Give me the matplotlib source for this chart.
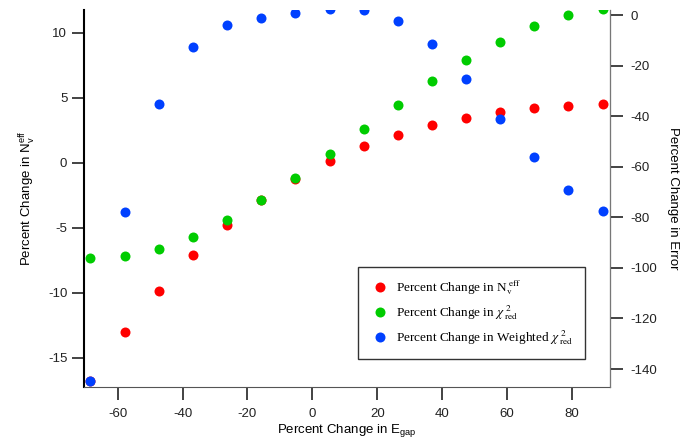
import numpy as np
import matplotlib.pyplot as plt
from matplotlib.font_manager import FontProperties

plt.rcParams['font.family'] = 'Liberation Sans'
plt.rcParams['mathtext.fontset'] = 'custom'
plt.rcParams['mathtext.rm'] = 'Liberation Sans'
plt.rcParams['mathtext.it'] = 'Liberation Sans'
plt.rcParams['axes.unicode_minus'] = False

# percent change in E_gap
egap = [-68.4, -57.9, -47.4, -36.8, -26.3, -15.8, -5.3, 5.3,
        15.8, 26.3, 36.8, 47.4, 57.9, 68.4, 78.9, 89.5]
# left axis: percent change in N_v^eff
neff = [-16.8, -13.0, -9.87, -7.12, -4.82, -2.9, -1.25, 0.1,
        1.26, 2.15, 2.9, 3.44, 3.9, 4.18, 4.38, 4.52]
# right axis: percent change in error
chi2 = [-96.0, -95.4, -92.5, -87.7, -81.1, -73.3, -64.3, -54.9,
        -45.1, -35.5, -26.2, -17.8, -10.6, -4.35, 0.0, 2.25]
wchi2 = [-144.7, -77.9, -35.2, -12.8, -4.1, -1.07, 0.8, 2.25,
         1.98, -2.25, -11.5, -25.2, -41.1, -56.3, -69.1, -77.4]

RED, GREEN, BLUE = '#ff0000', '#00cc00', '#0040ff'


def main():
    fig = plt.figure(figsize=(6.97, 4.43), dpi=100)
    ax = fig.add_axes([0.1205, 0.127, 0.754, 0.8504])
    ax2 = ax.twinx()

    l1, = ax.plot(egap, neff, 'o', color=RED, ms=7.2, mec='none',
                  label=r'Percent Change in N$_\mathrm{v}^{\ \mathrm{eff}}$')
    l2, = ax2.plot(egap, chi2, 'o', color=GREEN, ms=7.2, mec='none',
                   label=r'Percent Change in $\chi^{\ 2}_{\ \mathrm{red}}$')
    l3, = ax2.plot(egap, wchi2, 'o', color=BLUE, ms=7.2, mec='none',
                   label=r'Percent Change in Weighted $\chi^{\ 2}_{\ \mathrm{red}}$')

    ax.set_xlim(-70.4, 91.6)
    ax.set_ylim(-17.23, 11.75)
    ax2.set_ylim(-147.0, 1.98)
    ax.set_xticks(np.arange(-60, 81, 20))
    ax.set_yticks(np.arange(-15, 11, 5))
    ax2.set_yticks(np.arange(-140, 1, 20))

    for a in (ax, ax2):
        a.spines['top'].set_visible(False)
        a.tick_params(direction='out', length=9, width=1.2, labelsize=9.5,
                      colors='#222222')
    ax.spines['left'].set_linewidth(1.5)
    ax.spines['bottom'].set_color('#555555')
    ax2.spines['right'].set_color('#777777')
    ax2.spines['left'].set_visible(False)
    ax2.spines['bottom'].set_visible(False)
    ax.tick_params(axis='x', pad=6)
    ax.tick_params(axis='y', pad=3)
    ax2.tick_params(axis='y', pad=6)

    ax.set_xlabel(r'Percent Change in E$_\mathrm{gap}$', fontsize=9.5, labelpad=2)
    ax.set_ylabel(r'Percent Change in N$_\mathrm{v}^{\mathrm{eff}}$', fontsize=9.5,
                  labelpad=7)
    ax2.set_ylabel('Percent Change in Error', fontsize=9.5, rotation=270,
                   labelpad=16)

    prop = FontProperties(family='Liberation Serif', size=9.5, math_fontfamily='stix')
    leg = ax2.legend(handles=[l1, l2, l3], loc='upper left', prop=prop,
                     bbox_to_anchor=(0.521, 0.3186), borderaxespad=0,
                     fancybox=False, framealpha=1, edgecolor='#333333',
                     handletextpad=0.5, labelspacing=0.45, borderpad=0.9,
                     handlelength=1.5, numpoints=1)
    leg.get_frame().set_linewidth(1.0)

    fig.savefig('out.png', dpi=100)


if __name__ == "__main__":
    main()
